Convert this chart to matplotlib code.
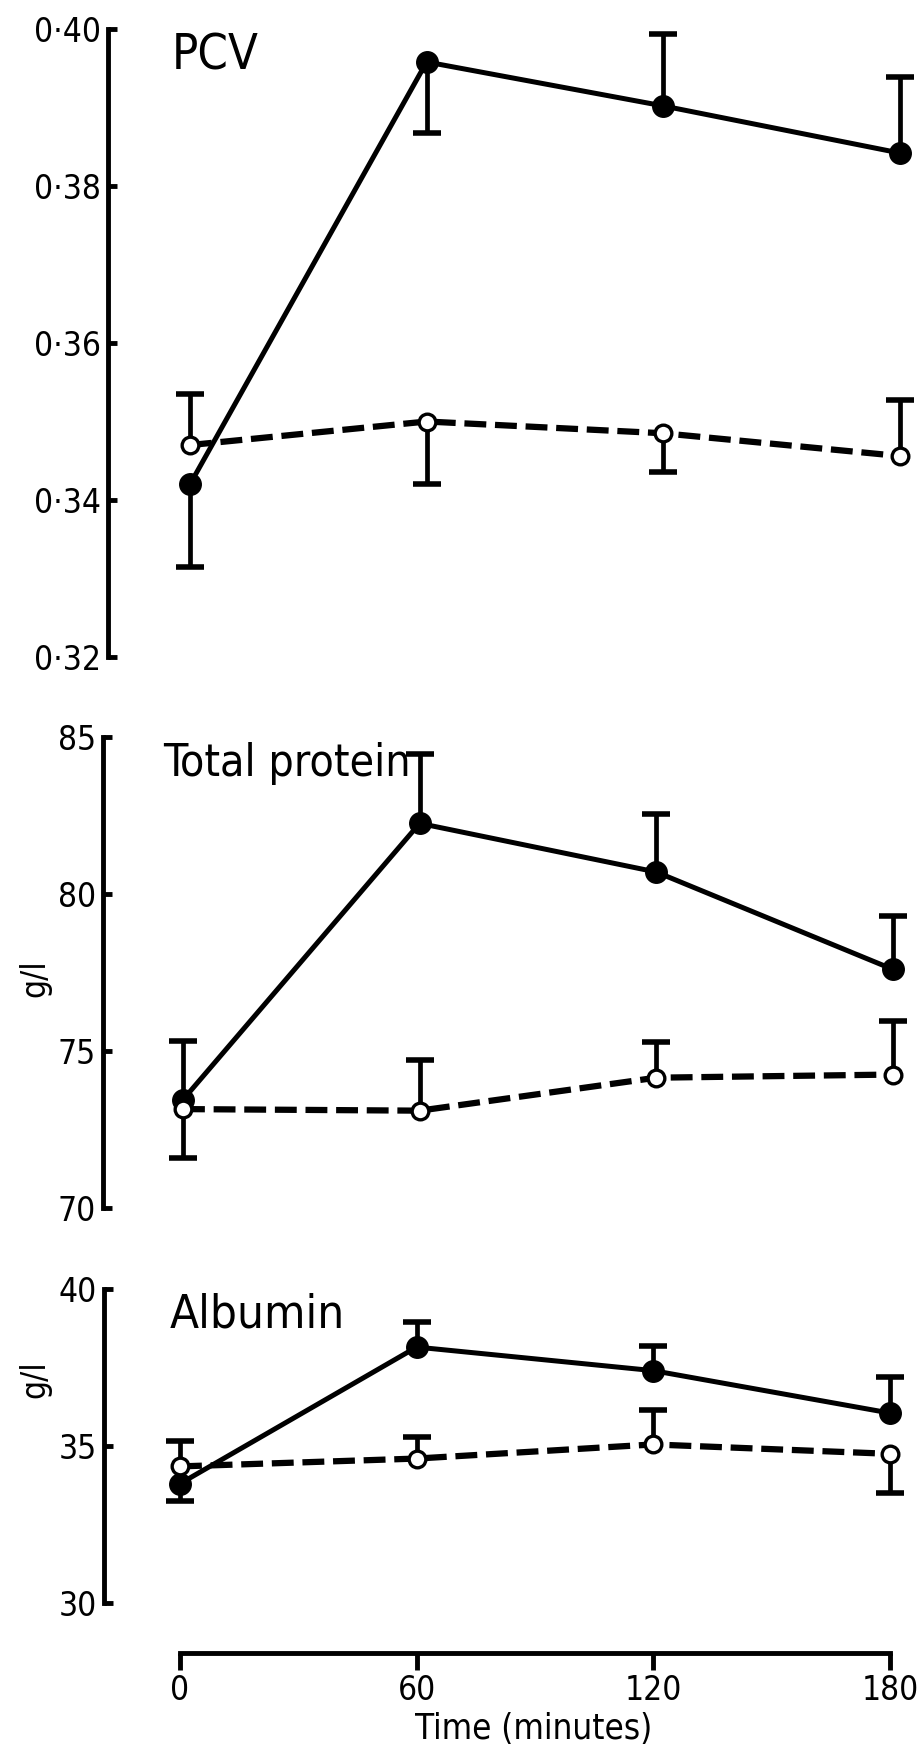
import matplotlib
matplotlib.use("Agg")
import matplotlib.pyplot as plt

plt.rcParams['font.family'] = ['DejaVu Sans']
plt.rcParams['font.stretch'] = 'condensed'

# sampling times (minutes)
time = [0, 60, 120, 180]

# PCV : filled circles (solid line) and open circles (dashed line)
pcv_filled = [0.342, 0.3958, 0.3902, 0.3842]
pcv_filled_bar = [0.3315, 0.3868, 0.3994, 0.3939]
pcv_open = [0.3470, 0.3500, 0.3485, 0.3456]
pcv_open_bar = [0.3535, 0.3421, 0.3436, 0.3527]

# Total protein (g/l)
tp_filled = [73.45, 82.25, 80.7, 77.6]
tp_filled_bar = [75.33, 84.45, 82.55, 79.3]
tp_open = [73.15, 73.1, 74.15, 74.25]
tp_open_bar = [71.6, 74.7, 75.3, 75.95]

# Albumin (g/l)
alb_filled = [33.8, 38.15, 37.4, 36.05]
alb_filled_bar = [33.25, 38.95, 38.2, 37.2]
alb_open = [34.35, 34.6, 35.05, 34.75]
alb_open_bar = [35.15, 35.3, 36.15, 33.5]

pcv_ticks = [0.32, 0.34, 0.36, 0.38, 0.40]
pcv_ticklabels = ['0·32', '0·34', '0·36', '0·38', '0·40']
tp_ticks = [70, 75, 80, 85]
alb_ticks = [30, 35, 40]

W, H = 923, 1746
PX_PER_MIN = 3.944
RIGHT_PX = 920
LW_AXIS = 3.5


def make_axes(fig, left, top, bottom, x0_px):
    ax = fig.add_axes([left / W, 1 - bottom / H, (RIGHT_PX - left) / W, (bottom - top) / H])
    xmin = -(x0_px - left) / PX_PER_MIN
    ax.set_xlim(xmin, xmin + (RIGHT_PX - left) / PX_PER_MIN)
    ax.patch.set_alpha(0)
    for s in ['top', 'right', 'bottom']:
        ax.spines[s].set_visible(False)
    ax.spines['left'].set_linewidth(LW_AXIS)
    ax.tick_params(axis='y', direction='in', length=6.5, width=LW_AXIS, labelsize=24, pad=5)
    ax.tick_params(axis='x', bottom=False, labelbottom=False)
    return ax


def draw(ax, filled, fbar, opn, obar):
    k = 'black'
    ax.vlines(time, filled, fbar, color=k, lw=3.4, zorder=1)
    ax.vlines(time, opn, obar, color=k, lw=3.4, zorder=1)
    ax.plot(time, fbar, ls='none', marker='_', ms=20, mew=4, color=k, zorder=1)
    ax.plot(time, obar, ls='none', marker='_', ms=20, mew=4, color=k, zorder=1)
    ax.plot(time, filled, '-', lw=3.6, color=k, zorder=2)
    ax.plot(time, opn, ls=(0, (3.5, 1.4)), lw=4.5, color=k, zorder=2)
    ax.plot(time, filled, 'o', ms=15.5, color=k, zorder=4)
    ax.plot(time, opn, 'o', ms=12, mfc='white', mec=k, mew=2.4, zorder=5)


fig = plt.figure(figsize=(W / 100, H / 100), dpi=100)

ax1 = make_axes(fig, 108, 29, 657, 190)
draw(ax1, pcv_filled, pcv_filled_bar, pcv_open, pcv_open_bar)
ax1.set_ylim(0.32, 0.40)
ax1.set_yticks(pcv_ticks)
ax1.set_yticklabels(pcv_ticklabels)

ax2 = make_axes(fig, 103, 737, 1208, 183)
draw(ax2, tp_filled, tp_filled_bar, tp_open, tp_open_bar)
ax2.set_ylim(70, 85)
ax2.set_yticks(tp_ticks)

ax3 = make_axes(fig, 104, 1289, 1603, 180)
draw(ax3, alb_filled, alb_filled_bar, alb_open, alb_open_bar)
ax3.set_ylim(30, 40)
ax3.set_yticks(alb_ticks)
ax3.spines['bottom'].set_visible(True)
ax3.spines['bottom'].set_linewidth(LW_AXIS)
ax3.spines['bottom'].set_position(('outward', 36))
ax3.spines['bottom'].set_bounds(0, 180)
ax3.set_xticks(time)
ax3.tick_params(axis='x', bottom=True, labelbottom=True, direction='out',
                length=12, width=LW_AXIS, labelsize=24, pad=3)

# panel titles and axis labels
fig.text(172 / W, 1 - 70 / H, 'PCV', fontsize=35, va='baseline')
fig.text(163 / W, 1 - 776 / H, 'Total protein', fontsize=32, va='baseline')
fig.text(170 / W, 1 - 1328 / H, 'Albumin', fontsize=34, va='baseline')
fig.text(35 / W, 1 - 978 / H, 'g/l', fontsize=24, rotation=90, ha='center', va='center')
fig.text(35 / W, 1 - 1379 / H, 'g/l', fontsize=24, rotation=90, ha='center', va='center')
fig.text(534 / W, 1 - 1729 / H, 'Time (minutes)', fontsize=25, ha='center', va='center')

fig.savefig('out.png', dpi=100)
